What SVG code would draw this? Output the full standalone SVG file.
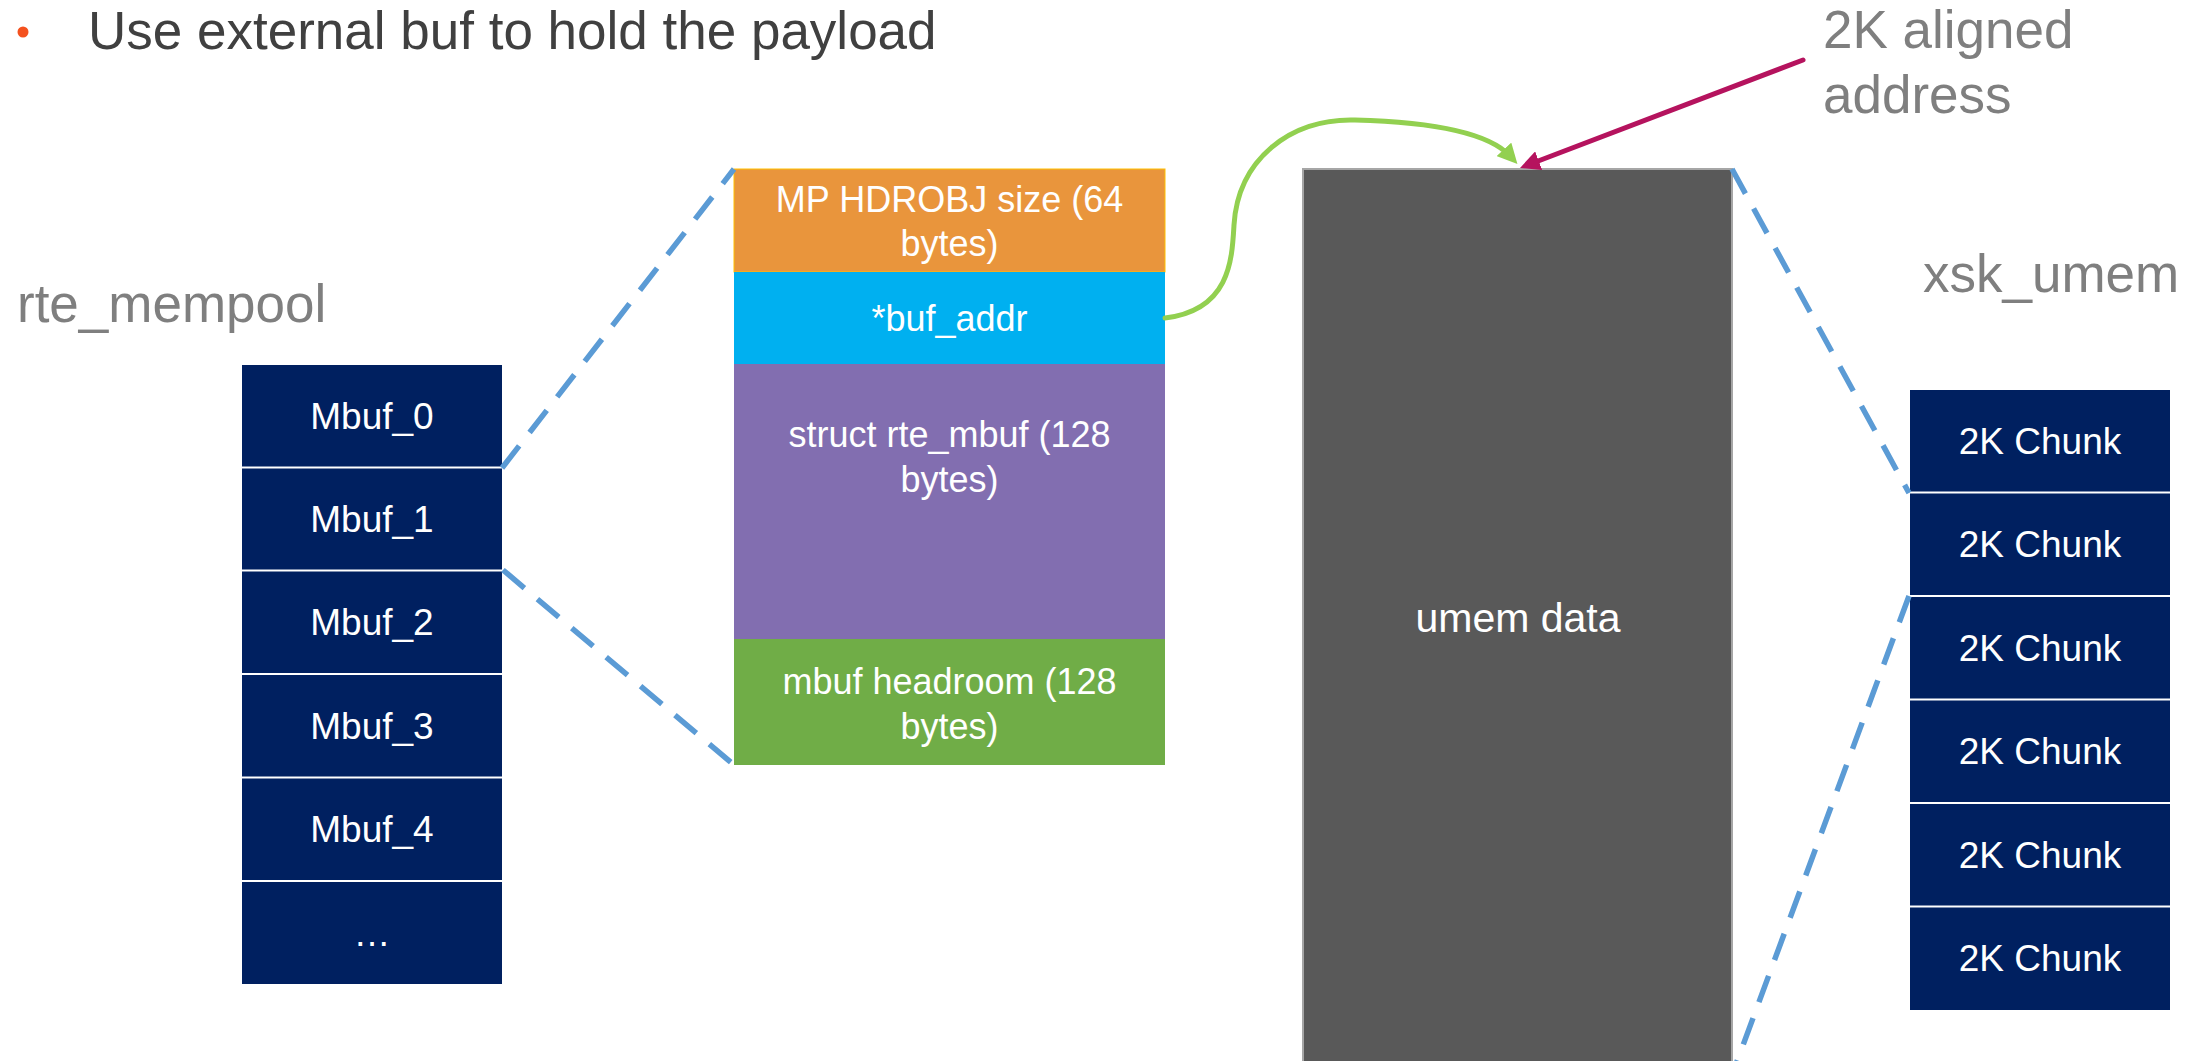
<svg xmlns="http://www.w3.org/2000/svg" width="2206" height="1061" viewBox="0 0 2206 1061">
<defs>
<style>
.lbl{font-family:"Liberation Sans",Arial,sans-serif;fill:#7F7F7F;font-size:53px}
.ttl{font-family:"Liberation Sans",Arial,sans-serif;fill:#404040;font-size:53px}
.wt{font-family:"Liberation Sans",Arial,sans-serif;fill:#FFFFFF;text-anchor:middle}
.cell{fill:#002060}
.dash{fill:none;stroke:#5B9BD5;stroke-width:5.5;stroke-dasharray:28 17}
</style>
<marker id="ahG" markerUnits="userSpaceOnUse" markerWidth="20" markerHeight="20" refX="9" refY="10" orient="auto"><path d="M0,0 L20,10 L0,20 z" fill="#92D050"/></marker>
<marker id="ahM" markerUnits="userSpaceOnUse" markerWidth="20" markerHeight="20" refX="9" refY="10" orient="auto"><path d="M0,0 L20,10 L0,20 z" fill="#B5135E"/></marker>
</defs>
<rect width="2206" height="1061" fill="#FFFFFF"/>

<g id="title">
<circle cx="23" cy="32" r="5.5" fill="#F4511E"/>
<text class="ttl" x="88" y="49">Use external buf to hold the payload</text>
</g>

<g id="label-rte_mempool"><text class="lbl" x="17" y="322">rte_mempool</text></g>
<g id="label-xsk_umem"><text class="lbl" x="1923" y="292">xsk_umem</text></g>
<g id="label-aligned"><text class="lbl" x="1823" y="48">2K aligned</text><text class="lbl" x="1823" y="113">address</text></g>

<g id="mempool">
<g id="mbuf0"><rect class="cell" x="242" y="365" width="260" height="101.5"/><text class="wt" x="372" y="429" font-size="37">Mbuf_0</text></g>
<g id="mbuf1"><rect class="cell" x="242" y="468.5" width="260" height="101"/><text class="wt" x="372" y="532" font-size="37">Mbuf_1</text></g>
<g id="mbuf2"><rect class="cell" x="242" y="571.5" width="260" height="101.5"/><text class="wt" x="372" y="635" font-size="37">Mbuf_2</text></g>
<g id="mbuf3"><rect class="cell" x="242" y="675" width="260" height="101.5"/><text class="wt" x="372" y="739" font-size="37">Mbuf_3</text></g>
<g id="mbuf4"><rect class="cell" x="242" y="778.5" width="260" height="101.5"/><text class="wt" x="372" y="842" font-size="37">Mbuf_4</text></g>
<g id="mbuf5"><rect class="cell" x="242" y="882" width="260" height="102"/><text class="wt" x="372" y="946" font-size="37">…</text></g>
</g>

<g id="mbuf-layout">
<g id="hdrobj"><rect x="734" y="169" width="431" height="103" fill="#E9953C" stroke="#FFC000" stroke-width="1"/><text class="wt" x="949.5" y="212" font-size="36">MP HDROBJ size (64</text><text class="wt" x="949.5" y="256" font-size="36">bytes)</text></g>
<g id="bufaddr"><rect x="734" y="272" width="431" height="92" fill="#00B0F0"/><text class="wt" x="949.5" y="331" font-size="36">*buf_addr</text></g>
<g id="rte_mbuf"><rect x="734" y="364" width="431" height="275" fill="#826EB0"/><text class="wt" x="949.5" y="447" font-size="36">struct rte_mbuf (128</text><text class="wt" x="949.5" y="492" font-size="36">bytes)</text></g>
<g id="headroom"><rect x="734" y="639" width="431" height="126" fill="#70AD47"/><text class="wt" x="949.5" y="694" font-size="36">mbuf headroom (128</text><text class="wt" x="949.5" y="739" font-size="36">bytes)</text></g>
</g>

<g id="umem"><rect x="1303" y="169" width="429" height="900" fill="#595959" stroke="#A6A6A6" stroke-width="2"/><text class="wt" x="1518" y="632" font-size="41">umem data</text></g>

<g id="chunks">
<g id="chunk0"><rect class="cell" x="1910" y="390" width="260" height="101.5"/><text class="wt" x="2040" y="454" font-size="37">2K Chunk</text></g>
<g id="chunk1"><rect class="cell" x="1910" y="493.5" width="260" height="101.5"/><text class="wt" x="2040" y="557" font-size="37">2K Chunk</text></g>
<g id="chunk2"><rect class="cell" x="1910" y="597" width="260" height="101.5"/><text class="wt" x="2040" y="661" font-size="37">2K Chunk</text></g>
<g id="chunk3"><rect class="cell" x="1910" y="700.5" width="260" height="101.5"/><text class="wt" x="2040" y="764" font-size="37">2K Chunk</text></g>
<g id="chunk4"><rect class="cell" x="1910" y="804" width="260" height="101.5"/><text class="wt" x="2040" y="868" font-size="37">2K Chunk</text></g>
<g id="chunk5"><rect class="cell" x="1910" y="907.5" width="260" height="102.5"/><text class="wt" x="2040" y="971" font-size="37">2K Chunk</text></g>
</g>

<g id="connectors">
<line class="dash" x1="502" y1="468" x2="734" y2="169"/>
<line class="dash" x1="503" y1="570" x2="734" y2="765"/>
<line class="dash" x1="1732" y1="169" x2="1909" y2="493"/>
<line class="dash" x1="1909" y1="596" x2="1732" y2="1075"/>
<path d="M1165,318 C1230,310 1232,260 1234,225 C1238,160 1290,118 1355,120 C1430,122 1488,132 1510,156" fill="none" stroke="#92D050" stroke-width="5" stroke-linecap="round" marker-end="url(#ahG)"/>
<line x1="1803" y1="60" x2="1530.3" y2="164" stroke="#B5135E" stroke-width="5" stroke-linecap="round" marker-end="url(#ahM)"/>
</g>
</svg>
